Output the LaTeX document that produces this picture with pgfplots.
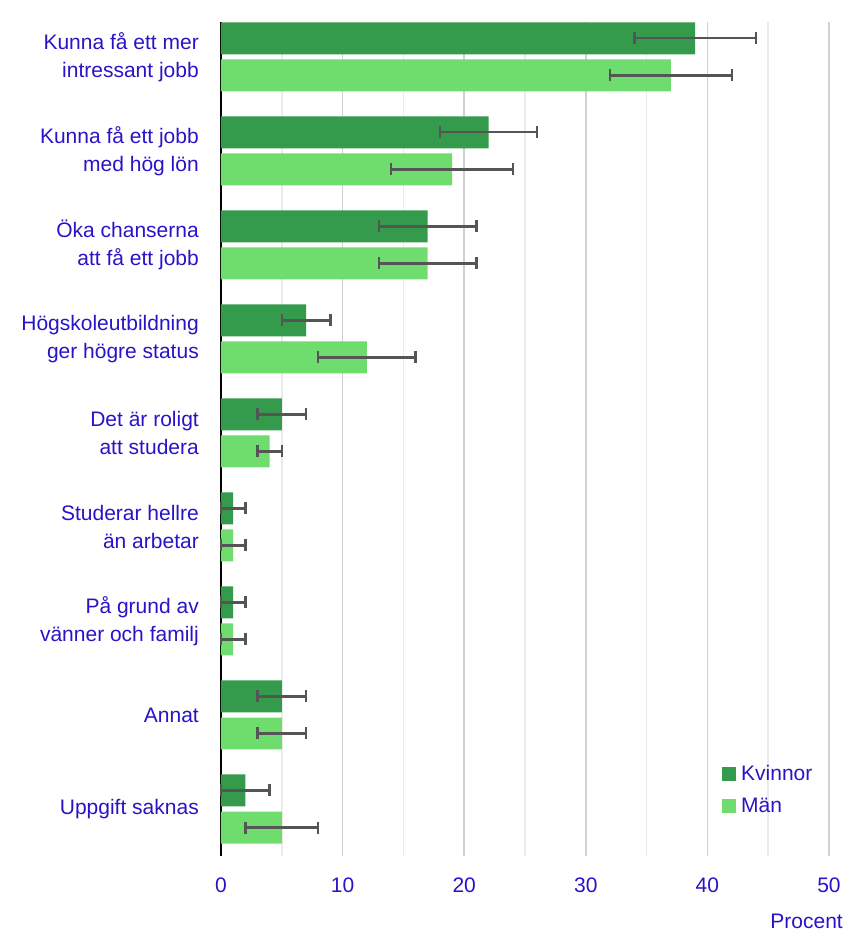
\documentclass[border=0pt]{standalone}
\usepackage{pgfplots}
\pgfplotsset{compat=1.18}
\usepackage{fontspec}
\setmainfont{Liberation Sans}
\definecolor{txt}{RGB}{40,20,200}
\definecolor{dk}{RGB}{51,155,75}
\definecolor{lt}{RGB}{110,221,110}
\definecolor{eb}{RGB}{85,85,85}
\begin{document}
\begin{tikzpicture}
\begin{axis}[
  at={(0pt,0pt)}, anchor=south west,
  scale only axis, width=608pt, height=834pt,
  xmin=0, xmax=50, ymin=-0.37, ymax=8.5, y dir=reverse,
  xbar, bar width=0.34,
  axis x line*=bottom, axis y line*=left,
  x axis line style={draw=none},
  y axis line style={black, line width=2pt},
  xtick={0,10,20,30,40,50}, minor x tick num=1,
  xmajorgrids, xminorgrids,
  major grid style={color=black!18, line width=1.5pt},
  minor grid style={color=black!8, line width=1.5pt},
  major tick length=0pt, minor tick length=0pt,
  ytick={0,...,8},
  yticklabels={{Kunna få ett mer\\intressant jobb},{Kunna få ett jobb\\med hög lön\ },{Öka chanserna\\att få ett jobb},{Högskoleutbildning\\ger högre status},{Det är roligt\\att studera},{Studerar hellre\\än arbetar},{På grund av\\vänner och familj},{Annat},{Uppgift saknas}},
  yticklabel style={align=right, font=\fontsize{21}{28}\selectfont, text=txt, inner sep=0pt, xshift=-22pt},
  xticklabel style={font=\fontsize{21}{24}\selectfont, text=txt, inner sep=0pt, yshift=-22pt},
  /pgf/number format/assume math mode=true,
  legend style={at={(0.824,0.05)}, anchor=south west, draw=none, fill=none, font=\fontsize{21}{24}\selectfont, text=txt, row sep=16pt, inner sep=0pt,
    nodes={inner xsep=5pt, inner ysep=0pt}},
  legend cell align=left,
  legend image code/.code={\fill[#1] (0pt,-7pt) rectangle (14pt,7pt);},
  clip=false,
]
\addplot[fill=dk, draw=none, bar shift=-0.197,
  error bars/.cd, x dir=both, x explicit,
  error bar style={draw=eb, line width=2.4pt},
  error mark options={draw=eb, line width=2.4pt, mark size=6pt, rotate=90}]
  coordinates {(39,0) +- (5,0) (22,1) +- (4,0) (17,2) +- (4,0) (7,3) +- (2,0) (5,4) +- (2,0) (1,5) +- (1,0) (1,6) +- (1,0) (5,7) +- (2,0) (2,8) +- (2,0)};
\addlegendentry{Kvinnor}
\addplot[fill=lt, draw=none, bar shift=0.197,
  error bars/.cd, x dir=both, x explicit,
  error bar style={draw=eb, line width=2.4pt},
  error mark options={draw=eb, line width=2.4pt, mark size=6pt, rotate=90}]
  coordinates {(37,0) +- (5,0) (19,1) +- (5,0) (17,2) +- (4,0) (12,3) +- (4,0) (4,4) +- (1,0) (1,5) +- (1,0) (1,6) +- (1,0) (5,7) +- (2,0) (5,8) +- (3,0)};
\addlegendentry{Män}
\node[anchor=base east, font=\fontsize{21}{24}\selectfont, text=txt, inner sep=0pt] at ([xshift=14pt,yshift=-72pt]axis description cs:1,0) {Procent};
\end{axis}
\path[use as bounding box] (-221pt,-78pt) rectangle (631pt,856pt);
\end{tikzpicture}
\end{document}
